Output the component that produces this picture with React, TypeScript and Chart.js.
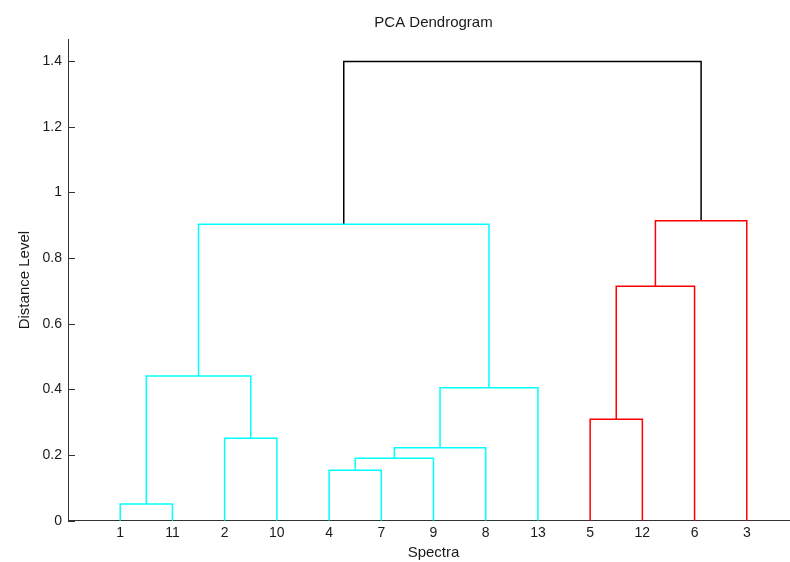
import React, { useEffect, useRef } from "react";
import { Chart, registerables } from "chart.js";

Chart.register(...registerables);

// ---- data ----
const leafOrder = [1, 11, 2, 10, 4, 7, 9, 8, 13, 5, 12, 6, 3];
// linkage rows (MATLAB style): new cluster ids start at 14
const linkLeft = [1, 4, 15, 16, 2, 5, 17, 14, 19, 21, 22, 23];
const linkRight = [11, 7, 9, 8, 10, 12, 13, 18, 6, 20, 3, 24];
const linkHeight = [0.051, 0.154, 0.19, 0.222, 0.251, 0.309, 0.405, 0.441, 0.714, 0.903, 0.914, 1.399];
const yTicks = [0, 0.2, 0.4, 0.6, 0.8, 1, 1.2, 1.4];
const yMax = 1.466;
const chartTitle = "PCA Dendrogram";
const xTitle = "Spectra";
const yTitle = "Distance Level";

// ---- style ----
const groupPalette = ["#00FFFF", "#FF0000"];
const aboveColor = "#000000";
const axisColor = "#333333";
const textColor = "#1a1a1a";
const FONT = "'Liberation Sans', Arial, sans-serif";

function buildLinks() {
  const n = leafOrder.length;
  const xPos: Record<number, number> = {};
  const hPos: Record<number, number> = {};
  const parent: Record<number, number> = {};
  leafOrder.forEach((leaf, i) => {
    xPos[leaf] = i + 1;
    hPos[leaf] = 0;
  });
  linkHeight.forEach((h, k) => {
    const id = n + 1 + k;
    const l = linkLeft[k];
    const r = linkRight[k];
    xPos[id] = (xPos[l] + xPos[r]) / 2;
    hPos[id] = h;
    parent[l] = id;
    parent[r] = id;
  });
  const threshold = 0.7 * Math.max(...linkHeight);
  const groupRootOf = (id: number) => {
    let cur = id;
    while (parent[cur] !== undefined && hPos[parent[cur]] < threshold) cur = parent[cur];
    return cur;
  };
  const roots: number[] = [];
  linkHeight.forEach((h, k) => {
    const id = n + 1 + k;
    if (h < threshold) {
      const r = groupRootOf(id);
      if (!roots.includes(r)) roots.push(r);
    }
  });
  roots.sort((a, b) => xPos[a] - xPos[b]);
  return linkHeight.map((h, k) => {
    const id = n + 1 + k;
    const l = linkLeft[k];
    const r = linkRight[k];
    const color =
      h >= threshold ? aboveColor : groupPalette[roots.indexOf(groupRootOf(id)) % groupPalette.length];
    return {
      data: [
        { x: xPos[l], y: hPos[l] },
        { x: xPos[l], y: h },
        { x: xPos[r], y: h },
        { x: xPos[r], y: hPos[r] },
      ],
      borderColor: color,
      borderWidth: 1.5,
      pointRadius: 0,
      fill: false,
      tension: 0,
    };
  });
}

const inwardTicks = {
  id: "inwardTicks",
  afterDraw(chart: any) {
    const y = chart.scales.y;
    const ctx = chart.ctx;
    const left = chart.chartArea.left;
    ctx.save();
    ctx.strokeStyle = axisColor;
    ctx.lineWidth = 1;
    y.ticks.forEach((t: any) => {
      const py = Math.round(y.getPixelForValue(t.value)) + 0.5;
      ctx.beginPath();
      ctx.moveTo(left, py);
      ctx.lineTo(left + 7, py);
      ctx.stroke();
    });
    ctx.restore();
  },
};

export default function App() {
  const ref = useRef<HTMLCanvasElement>(null);
  useEffect(() => {
    if (!ref.current) return;
    const chart = new Chart(ref.current, {
      type: "line",
      data: { datasets: buildLinks() as any },
      plugins: [inwardTicks],
      options: {
        animation: false,
        responsive: false,
        devicePixelRatio: 1,
        layout: { padding: 0 },
        plugins: {
          legend: { display: false },
          tooltip: { enabled: false },
          title: {
            display: true,
            text: chartTitle,
            fullSize: false,
            color: textColor,
            font: { family: FONT, size: 15, weight: "normal" },
            padding: { top: 13.5, bottom: 8 },
          },
        },
        scales: {
          x: {
            type: "linear",
            min: 0,
            max: leafOrder.length + 1,
            grid: { display: false, drawTicks: false },
            border: { display: true, color: axisColor, width: 1 },
            afterBuildTicks: (scale: any) => {
              scale.ticks = leafOrder.map((_, i) => ({ value: i + 1 }));
            },
            afterFit: (scale: any) => {
              scale.height = 41.3;
            },
            ticks: {
              autoSkip: false,
              maxRotation: 0,
              padding: 4,
              color: textColor,
              font: { family: FONT, size: 14 },
              callback: (v: any) => {
                const i = Math.round(Number(v)) - 1;
                return i >= 0 && i < leafOrder.length ? String(leafOrder[i]) : "";
              },
            },
            title: {
              display: true,
              text: xTitle,
              color: textColor,
              font: { family: FONT, size: 15 },
              padding: { top: 0, bottom: 0 },
            },
          },
          y: {
            type: "linear",
            min: 0,
            max: yMax,
            grid: { display: false, drawTicks: false },
            border: { display: true, color: axisColor, width: 1 },
            afterBuildTicks: (scale: any) => {
              scale.ticks = yTicks.map((v) => ({ value: v }));
            },
            afterFit: (scale: any) => {
              scale.width = 68;
            },
            ticks: {
              padding: 6,
              color: textColor,
              font: { family: FONT, size: 14 },
              callback: (v: any) => String(Number(Number(v).toFixed(1))),
            },
            title: {
              display: true,
              text: yTitle,
              color: textColor,
              font: { family: FONT, size: 15 },
              padding: { top: 16, bottom: 0 },
            },
          },
        },
      },
    });
    return () => chart.destroy();
  }, []);
  return (
    <div
      style={{
        position: "fixed",
        left: 0,
        top: 0,
        width: 790,
        height: 562,
        overflow: "hidden",
        background: "#ffffff",
      }}
    >
      <canvas ref={ref} width={799} height={562} style={{ display: "block" }} />
    </div>
  );
}
